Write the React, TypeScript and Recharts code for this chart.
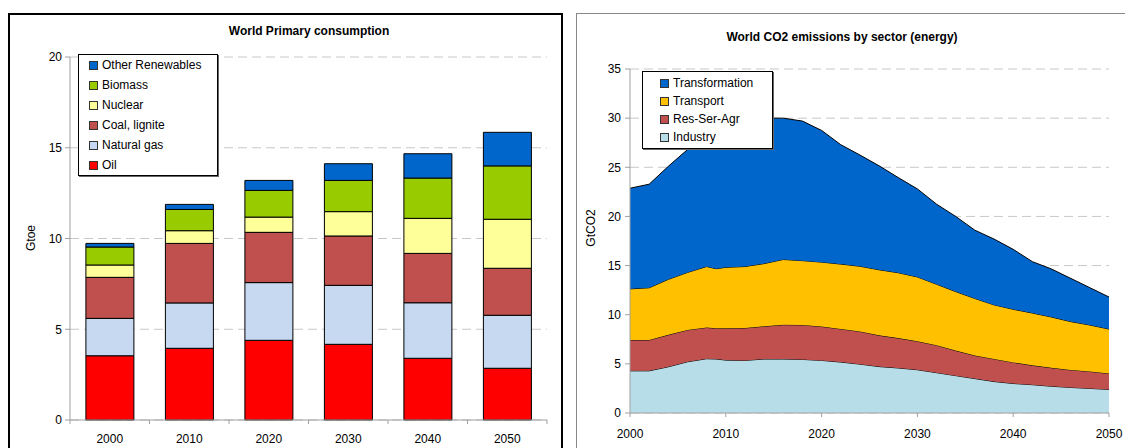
import React from "react";
import {
  Area,
  AreaChart,
  Bar,
  BarChart,
  CartesianGrid,
  Legend,
  XAxis,
  YAxis,
} from "recharts";

// World Primary consumption (Gtoe)
const primaryYears = ["2000", "2010", "2020", "2030", "2040", "2050"];
const oil = [3.54, 3.95, 4.39, 4.17, 3.4, 2.85];
const naturalGas = [2.06, 2.5, 3.18, 3.25, 3.06, 2.92];
const coalLignite = [2.26, 3.28, 2.77, 2.72, 2.72, 2.59];
const nuclear = [0.68, 0.7, 0.84, 1.34, 1.93, 2.7];
const biomass = [0.99, 1.17, 1.47, 1.72, 2.22, 2.94];
const otherRenewables = [0.2, 0.28, 0.55, 0.92, 1.34, 1.85];
const primaryTicks = [0, 5, 10, 15, 20];

// World CO2 emissions by sector (GtCO2)
const co2Years = [
  2000, 2002, 2004, 2006, 2008, 2009, 2010, 2012, 2014, 2016, 2018, 2020,
  2022, 2024, 2026, 2028, 2030, 2032, 2034, 2036, 2038, 2040, 2042, 2044,
  2046, 2048, 2050,
];
const industry = [
  4.29, 4.29, 4.7, 5.21, 5.52, 5.49, 5.38, 5.35, 5.49, 5.49, 5.45, 5.35, 5.18,
  4.97, 4.72, 4.58, 4.4, 4.1, 3.8, 3.5, 3.2, 3.0, 2.88, 2.72, 2.6, 2.5, 2.4,
];
const resSerAgr = [
  3.14, 3.14, 3.25, 3.24, 3.18, 3.13, 3.24, 3.3, 3.33, 3.49, 3.51, 3.45, 3.37,
  3.33, 3.18, 3.04, 2.9, 2.8, 2.55, 2.35, 2.3, 2.15, 1.97, 1.88, 1.78, 1.73,
  1.62,
];
const transport = [
  5.2, 5.31, 5.65, 5.85, 6.2, 6.06, 6.2, 6.25, 6.38, 6.64, 6.54, 6.55, 6.6,
  6.63, 6.67, 6.65, 6.54, 6.2, 6.0, 5.8, 5.5, 5.4, 5.32, 5.16, 4.92, 4.72,
  4.52,
];
const transformation = [
  10.24, 10.54, 11.5, 12.5, 13.3, 14.02, 14.28, 14.8, 14.8, 14.38, 14.2, 13.4,
  12.15, 11.32, 10.58, 9.68, 8.96, 8.15, 7.65, 6.95, 6.7, 6.1, 5.23, 4.89, 4.4,
  3.8, 3.26,
];
const co2Ticks = [0, 5, 10, 15, 20, 25, 30, 35];
const co2YearTicks = [2000, 2010, 2020, 2030, 2040, 2050];

const primarySeries = [
  { key: "oil", name: "Oil", color: "#FF0000", values: oil },
  { key: "gas", name: "Natural gas", color: "#C6D9F0", values: naturalGas },
  { key: "coal", name: "Coal, lignite", color: "#C0504D", values: coalLignite },
  { key: "nuclear", name: "Nuclear", color: "#FFFF99", values: nuclear },
  { key: "biomass", name: "Biomass", color: "#99CC00", values: biomass },
  { key: "other", name: "Other Renewables", color: "#0066CC", values: otherRenewables },
];

const co2Series = [
  { key: "industry", name: "Industry", color: "#B7DEE8", values: industry },
  { key: "res", name: "Res-Ser-Agr", color: "#C0504D", values: resSerAgr },
  { key: "transport", name: "Transport", color: "#FFC000", values: transport },
  { key: "transf", name: "Transformation", color: "#0066CC", values: transformation },
];

const primaryData = primaryYears.map((year, i) => {
  const row: Record<string, string | number> = { year };
  primarySeries.forEach((s) => (row[s.key] = s.values[i]));
  return row;
});

const co2Data = co2Years.map((year, i) => {
  const row: Record<string, number> = { year };
  co2Series.forEach((s) => (row[s.key] = s.values[i]));
  return row;
});

const FONT = '"Liberation Sans", Arial, sans-serif';
const GRID = "#C8C8C8";
const AXIS = "#A0A0A0";
const LEFT_PLOT_W = 477;

type Item = { name: string; color: string };

function LegendBox({
  items,
  rowH,
  pad,
  indent,
  width,
}: {
  items: Item[];
  rowH: number;
  pad: number;
  indent: number;
  width: number;
}) {
  return (
    <div
      style={{
        width,
        boxSizing: "border-box",
        background: "#fff",
        border: "1px solid #000",
        padding: `${pad}px 0 ${pad}px ${indent}px`,
        fontFamily: FONT,
        fontSize: 12,
        color: "#000",
        boxShadow: "1px 1px 0 #666",
      }}
    >
      {items.map((it) => (
        <div
          key={it.name}
          style={{ height: rowH, display: "flex", alignItems: "center", whiteSpace: "nowrap" }}
        >
          <span
            style={{
              width: 7,
              height: 7,
              background: it.color,
              border: "1px solid #333",
              marginRight: 4,
              display: "inline-block",
            }}
          />
          {it.name}
        </div>
      ))}
    </div>
  );
}

function BandTick(props: any) {
  const { x, y, payload, index } = props;
  const half = LEFT_PLOT_W / primaryYears.length / 2;
  return (
    <g>
      <line x1={x - half} x2={x - half} y1={y} y2={y + 4} stroke={AXIS} />
      {index === primaryYears.length - 1 && (
        <line x1={x + half} x2={x + half} y1={y} y2={y + 4} stroke={AXIS} />
      )}
      <text x={x} y={y + 23} textAnchor="middle" fontSize={12} fill="#000">
        {payload.value}
      </text>
    </g>
  );
}

const title: React.CSSProperties = {
  position: "absolute",
  fontFamily: FONT,
  fontWeight: "bold",
  fontSize: 12,
  color: "#000",
  whiteSpace: "nowrap",
  transform: "translate(-50%, -50%)",
};

const axisLabel: React.CSSProperties = {
  position: "absolute",
  fontFamily: FONT,
  fontSize: 12,
  color: "#000",
  whiteSpace: "nowrap",
  transform: "translate(-50%, -50%) rotate(-90deg)",
};

export default function App() {
  return (
    <div
      style={{
        position: "absolute",
        left: 0,
        top: 0,
        width: 1125,
        height: 448,
        overflow: "hidden",
        background: "#fff",
        fontFamily: FONT,
      }}
    >
      <div
        style={{
          position: "absolute",
          left: 8,
          top: 13,
          width: 555,
          height: 460,
          border: "2px solid #000",
          boxSizing: "border-box",
        }}
      />
      <div
        style={{
          position: "absolute",
          left: 576,
          top: 13,
          width: 600,
          height: 460,
          border: "1px solid #888",
          boxSizing: "border-box",
        }}
      />

      <div style={{ ...title, left: 309, top: 31 }}>World Primary consumption</div>
      <div style={{ ...title, left: 842, top: 37 }}>World CO2 emissions by sector (energy)</div>
      <div style={{ ...axisLabel, left: 31, top: 238 }}>Gtoe</div>
      <div style={{ ...axisLabel, left: 591, top: 228 }}>GtCO2</div>

      <div style={{ position: "absolute", left: 0, top: 0 }}>
        <BarChart
          width={563}
          height={448}
          data={primaryData}
          margin={{ top: 57, right: 16, bottom: 0, left: 30 }}
          barCategoryGap="20%"
        >
          <CartesianGrid vertical={false} stroke={GRID} strokeDasharray="9 5" />
          <XAxis
            dataKey="year"
            height={28}
            stroke={AXIS}
            tickLine={false}
            tickSize={0}
            tickMargin={0}
            tick={<BandTick />}
            interval={0}
          />
          <YAxis
            width={40}
            domain={[0, 20]}
            ticks={primaryTicks}
            stroke={AXIS}
            tickSize={5}
            tickMargin={3}
            tick={{ fill: "#000", fontSize: 12 }}
            interval={0}
          />
          {primarySeries.map((s) => (
            <Bar
              key={s.key}
              dataKey={s.key}
              name={s.name}
              stackId="p"
              fill={s.color}
              stroke="#000"
              strokeWidth={1}
              isAnimationActive={false}
            />
          ))}
          <Legend
            layout="vertical"
            align="center"
            verticalAlign="middle"
            wrapperStyle={{ left: 78, top: 54, width: 140, height: "auto" }}
            content={() => (
              <LegendBox
                width={140}
                rowH={20}
                pad={0}
                indent={10}
                items={[...primarySeries].reverse().map((s) => ({ name: s.name, color: s.color }))}
              />
            )}
          />
        </BarChart>
      </div>

      <div style={{ position: "absolute", left: 565, top: 0 }}>
        <AreaChart
          width={560}
          height={448}
          data={co2Data}
          margin={{ top: 69, right: 16, bottom: 0, left: 25 }}
        >
          <CartesianGrid vertical={false} stroke={GRID} strokeDasharray="9 5" />
          <XAxis
            dataKey="year"
            type="number"
            domain={[2000, 2050]}
            ticks={co2YearTicks}
            height={35}
            stroke={AXIS}
            tickSize={4}
            tickMargin={12}
            tick={{ fill: "#000", fontSize: 12 }}
            interval={0}
          />
          <YAxis
            width={40}
            domain={[0, 35]}
            ticks={co2Ticks}
            stroke={AXIS}
            tickSize={5}
            tickMargin={4}
            tick={{ fill: "#000", fontSize: 12 }}
            interval={0}
          />
          {co2Series.map((s) => (
            <Area
              key={s.key}
              type="linear"
              dataKey={s.key}
              name={s.name}
              stackId="c"
              fill={s.color}
              fillOpacity={1}
              stroke="#000"
              strokeWidth={1}
              isAnimationActive={false}
            />
          ))}
          <Legend
            layout="vertical"
            align="center"
            verticalAlign="middle"
            wrapperStyle={{ left: 77, top: 71, width: 131, height: "auto" }}
            content={() => (
              <LegendBox
                width={131}
                rowH={18}
                pad={2}
                indent={17}
                items={[...co2Series].reverse().map((s) => ({ name: s.name, color: s.color }))}
              />
            )}
          />
        </AreaChart>
      </div>
    </div>
  );
}
